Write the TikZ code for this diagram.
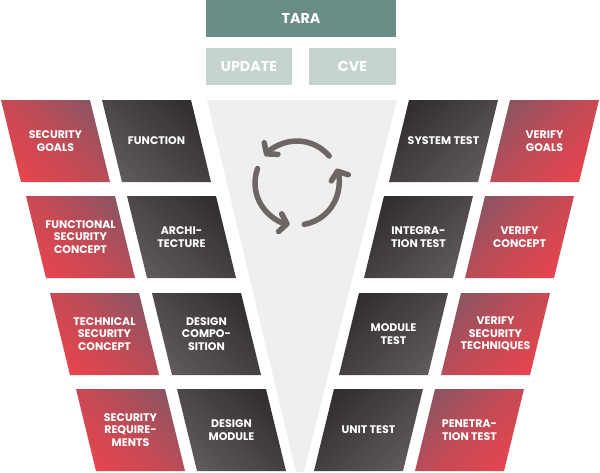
\documentclass[tikz,border=0pt]{standalone}
\usepackage{fontspec}
\setmainfont{Poppins}
\usetikzlibrary{arrows.meta}
\definecolor{tara}{HTML}{6A8D87}
\definecolor{upd}{HTML}{C6D4D1}
\definecolor{funnel}{HTML}{EFEFEF}
\definecolor{redA}{HTML}{F5424C}
\definecolor{redM}{HTML}{C24B56}
\definecolor{redB}{HTML}{5E5C6C}
\definecolor{darkA}{HTML}{1C1A1B}
\definecolor{darkB}{HTML}{766D6D}
\definecolor{icon}{HTML}{6E6565}
\pgfdeclareverticalshading{redsh}{100bp}{color(0bp)=(redA); color(12bp)=(redA); color(50bp)=(redM); color(100bp)=(redB)}
\pgfdeclareverticalshading{darksh}{100bp}{color(0bp)=(darkB); color(100bp)=(darkA)}
\tikzset{
  lbl/.style={text=white, font=\bfseries\fontsize{11}{12.5}\selectfont, align=center, inner sep=0pt},
  hdr/.style={text=white, font=\bfseries\fontsize{14.3}{16}\selectfont, inner sep=0pt, minimum height=37pt, anchor=center},
  redL/.style={shading=redsh, shading angle=-45},
  darkL/.style={shading=darksh, shading angle=-45},
  redR/.style={shading=redsh, shading angle=45},
  darkR/.style={shading=darksh, shading angle=45},
  cyc/.style={draw=icon, line width=5.5pt, line cap=round, -{Straight Barb[length=7pt,width=18pt,round]}}
}
\newcommand\leftbox[5]{%
  \shade[#4] (#2,#3) -- ++(89,0) -- ++(20,82) -- ++(-89,0) -- cycle;
  \node[lbl] (#1) at ({#2+54.5},{#3+41}) {#5};
}
\newcommand\rightbox[5]{%
  \shade[#4] ({600-#2},#3) -- ++(-89,0) -- ++(-20,82) -- ++(89,0) -- cycle;
  \node[lbl] (#1) at ({600-#2-54.5},{#3+41}) {#5};
}
\begin{document}
\begin{tikzpicture}[x=1pt,y=-1pt]
\useasboundingbox (0,0) rectangle (600,472);
% header boxes
\node[hdr, fill=tara, minimum width=190pt] (tara) at (301,18.5) {TARA};
\node[hdr, fill=upd, minimum width=86pt] (update) at (249,66.5) {UPDATE};
\node[hdr, fill=upd, minimum width=87pt] (cve) at (352.5,66.5) {CVE};
% funnel
\fill[funnel] (207,100) -- (397,100) -- (304,472) -- (296,472) -- cycle;
% cycle icon
\coordinate (c) at (297,183);
\draw[cyc] ([shift={(-40:42)}]c) arc[start angle=-40, end angle=-140, radius=42];
\draw[cyc] ([shift={(-160:42)}]c) arc[start angle=-160, end angle=-260, radius=42];
\draw[cyc] ([shift={(-280:42)}]c) arc[start angle=-280, end angle=-380, radius=42];
% left side
\leftbox{sg}{1}{100}{redL}{SECURITY\\GOALS}
\leftbox{fn}{102}{100}{darkL}{FUNCTION}
\leftbox{fsc}{26}{196}{redL}{FUNCTIONAL\\SECURITY\\CONCEPT}
\leftbox{arch}{127}{196}{darkL}{ARCHI-\\TECTURE}
\leftbox{tsc}{50}{293}{redL}{TECHNICAL\\SECURITY\\CONCEPT}
\leftbox{dc}{152}{293}{darkL}{DESIGN\\COMPO-\\SITION}
\leftbox{sr}{76}{389}{redL}{SECURITY\\REQUIRE-\\MENTS}
\leftbox{dm}{177}{389}{darkL}{DESIGN\\MODULE}
% right side
\rightbox{st}{102}{100}{darkR}{SYSTEM TEST}
\rightbox{vg}{1}{100}{redR}{VERIFY\\GOALS}
\rightbox{it}{127}{196}{darkR}{INTEGRA-\\TION TEST}
\rightbox{vc}{26}{196}{redR}{VERIFY\\CONCEPT}
\rightbox{mt}{152}{293}{darkR}{MODULE\\TEST}
\rightbox{vst}{50}{293}{redR}{VERIFY\\SECURITY\\TECHNIQUES}
\rightbox{ut}{177}{389}{darkR}{UNIT TEST}
\rightbox{pt}{76}{389}{redR}{PENETRA-\\TION TEST}
\end{tikzpicture}
\end{document}
